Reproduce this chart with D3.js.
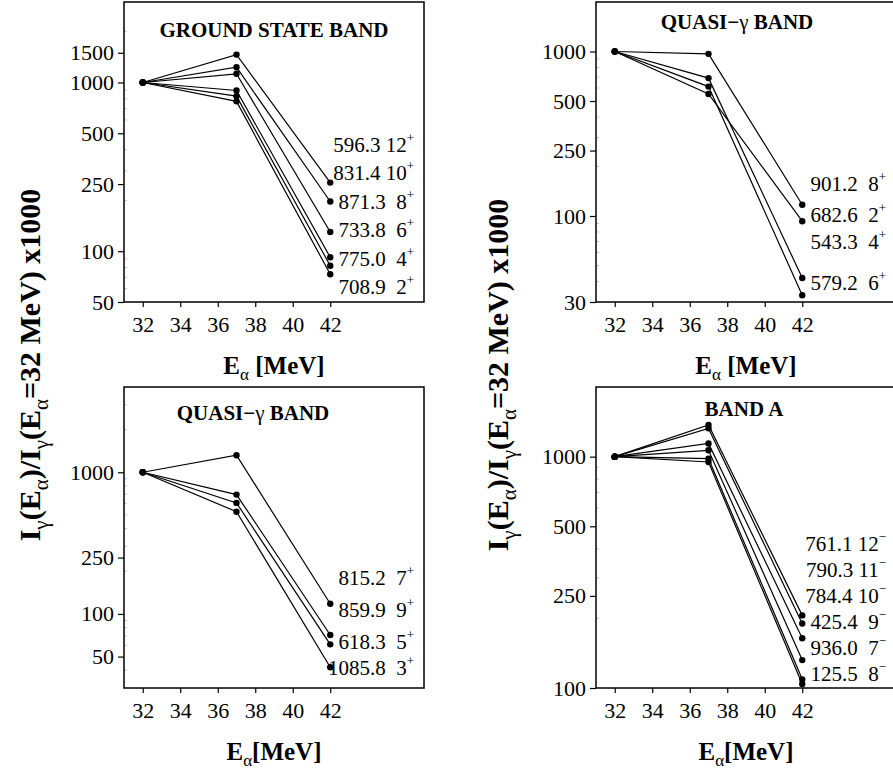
<!DOCTYPE html>
<html><head><meta charset="utf-8">
<script src="https://cdn.jsdelivr.net/npm/d3@7"></script>
</head><body style="margin:0;background:#fff">
<svg id="c" width="893" height="774" style="font-family:'Liberation Serif'"></svg>
<script>
// ---- shared data ----
const beamEnergies = [32, 37, 42];
const xTickValues = [32, 34, 36, 38, 40, 42];

// Ground state band
const gsbGamma = ["596.3","831.4","871.3","733.8","775.0","708.9"];
const gsbSpin  = ["12","10","8","6","4","2"];
const gsbAt32  = [1000,1000,1000,1000,1000,1000];
const gsbAt37  = [1463,1231,1126,897,830,773];
const gsbAt42  = [255,197,130,92,82,73];
const gsbYTicks = [50,100,250,500,1000,1500];

// Quasi-gamma band (even spins)
const qgEvenGamma = ["901.2","682.6","543.3","579.2"];
const qgEvenSpin  = ["8","2","4","6"];
const qgEvenAt32  = [1000,1000,1000,1000];
const qgEvenAt37  = [968,552,689,612];
const qgEvenAt42  = [117,93,42,33];
const qgEvenYTicks = [30,100,250,500,1000];

// Quasi-gamma band (odd spins)
const qgOddGamma = ["815.2","859.9","618.3","1085.8"];
const qgOddSpin  = ["7","9","5","3"];
const qgOddAt32  = [1000,1000,1000,1000];
const qgOddAt37  = [1319,696,608,527];
const qgOddAt42  = [118,71,61,42];
const qgOddYTicks = [50,100,250,1000];

// Band A
const bandAGamma = ["761.1","790.3","784.4","425.4","936.0","125.5"];
const bandASpin  = ["12","11","10","9","7","8"];
const bandAAt32  = [1000,1000,1000,1000,1000,1000];
const bandAAt37  = [1370,1325,1140,1065,980,948];
const bandAAt42  = [206,190,164,132,109,104];
const bandAYTicks = [100,250,500,1000];

const FONT = "Liberation Serif";
const svg = d3.select("#c");
function serif(sel){ return sel.attr("font-family",FONT).style("font-family","'Liberation Serif'"); }

function drawPanel(cfg){
  const g = svg.append("g").attr("transform",`translate(${cfg.left},${cfg.top})`);
  const W = 300, H = cfg.height;
  const x = d3.scaleLinear().domain([31,47]).range([0,W]);
  const y = d3.scaleLog().domain(cfg.domain).range([H,0]);

  // minor ticks
  const [lo,hi] = cfg.domain;
  const minors = [];
  for(let e=Math.floor(Math.log10(lo)); e<=Math.ceil(Math.log10(hi)); e++){
    for(let k=1;k<10;k++){ const v=k*Math.pow(10,e); if(v>lo && v<hi && !cfg.yTicks.includes(v)) minors.push(v); }
  }
  g.selectAll(".minor").data(minors).join("line")
    .attr("x1",0).attr("x2",3).attr("y1",d=>y(d)).attr("y2",d=>y(d))
    .attr("stroke","#aaa").attr("stroke-width",0.7);

  // y axis
  const ya = g.append("g").call(d3.axisLeft(y).tickValues(cfg.yTicks).tickFormat(d3.format("d")).tickSize(6).tickPadding(4));
  serif(ya);
  ya.select(".domain").remove();
  serif(ya.selectAll("text").attr("font-size",22));
  ya.selectAll("line").attr("stroke-width",1.2);

  // x axis
  const xa = g.append("g").attr("transform",`translate(0,${H})`)
    .call(d3.axisBottom(x).tickValues(xTickValues).tickFormat(d3.format("d")).tickSize(5).tickPadding(9));
  serif(xa);
  xa.select(".domain").remove();
  serif(xa.selectAll("text").attr("font-size",22));
  xa.selectAll("line").attr("stroke-width",1.2);

  // frame
  g.append("rect").attr("x",0).attr("y",0).attr("width",W).attr("height",H)
    .attr("fill","none").attr("stroke","#000").attr("stroke-width",1.5);

  // series
  const series = cfg.at32.map((v,i)=>[cfg.at32[i],cfg.at37[i],cfg.at42[i]].map((val,j)=>({e:beamEnergies[j],v:val})));
  const line = d3.line().x(d=>x(d.e)).y(d=>y(d.v));
  g.selectAll(".ser").data(series).join("path")
    .attr("d",line).attr("fill","none").attr("stroke","#000").attr("stroke-width",1.2);
  g.selectAll(".pt").data(series.flat()).join("circle")
    .attr("cx",d=>x(d.e)).attr("cy",d=>y(d.v)).attr("r",3.2).attr("fill","#000");

  // title
  const t = serif(g.append("text")).attr("x",cfg.titleX).attr("y",cfg.titleY).attr("text-anchor","middle")
    .attr("font-weight","bold").attr("font-size",21);
  cfg.title.forEach(p=>{ const s=t.append("tspan").text(p[0]); if(p[1]) s.attr("font-weight","normal"); });

  // level labels
  cfg.gamma.forEach((gm,i)=>{
    const sp = cfg.spin[i];
    const tx = serif(g.append("text")).attr("x",W-10).attr("y",cfg.labelY[i])
      .attr("text-anchor","end").attr("font-size",21).style("white-space","pre");
    tx.append("tspan").text(gm + (sp.length===1 ? "  " : " ") + sp);
    tx.append("tspan").attr("dy",-10).attr("font-size",13).text(cfg.parity);
  });

  // x label
  const xl = serif(g.append("text")).attr("x",W/2).attr("y",H+72).attr("text-anchor","middle")
    .attr("font-weight","bold").attr("font-size",25);
  xl.append("tspan").text("E");
  xl.append("tspan").attr("dy",6).attr("font-size",17).attr("font-weight","normal").text("α");
  xl.append("tspan").attr("dy",-6).text(cfg.xlabelSpace ? " [MeV]" : "[MeV]");
}

const evenY = (y0,dy,n)=>d3.range(n).map(i=>y0+dy*i);

drawPanel({left:124, top:2, height:300, domain:[50,3000], yTicks:gsbYTicks,
  at32:gsbAt32, at37:gsbAt37, at42:gsbAt42, gamma:gsbGamma, spin:gsbSpin, parity:"+",
  title:[["GROUND STATE BAND",false]], titleX:150, titleY:35, labelY:evenY(150,28.4,6), xlabelSpace:true});

drawPanel({left:596, top:2, height:300, domain:[30,2000], yTicks:qgEvenYTicks,
  at32:qgEvenAt32, at37:qgEvenAt37, at42:qgEvenAt42, gamma:qgEvenGamma, spin:qgEvenSpin, parity:"+",
  title:[["QUASI\u2212",false],["\u03b3",true],[" BAND",false]], titleX:141, titleY:27, labelY:[189,220,247,288], xlabelSpace:true});

drawPanel({left:124, top:387, height:301, domain:[30,4000], yTicks:qgOddYTicks,
  at32:qgOddAt32, at37:qgOddAt37, at42:qgOddAt42, gamma:qgOddGamma, spin:qgOddSpin, parity:"+",
  title:[["QUASI\u2212",false],["\u03b3",true],[" BAND",false]], titleX:129, titleY:33, labelY:[198,230,262,288], xlabelSpace:false});

drawPanel({left:596, top:387, height:301, domain:[100,2000], yTicks:bandAYTicks,
  at32:bandAAt32, at37:bandAAt37, at42:bandAAt42, gamma:bandAGamma, spin:bandASpin, parity:"\u2212",
  title:[["BAND A",false]], titleX:148, titleY:29, labelY:evenY(164,26,6), xlabelSpace:false});

// y-axis titles
function yTitle(cx, cy){
  const t = serif(svg.append("text")).attr("transform",`translate(${cx},${cy}) rotate(-90)`)
    .attr("text-anchor","middle").attr("font-weight","bold").attr("font-size",30);
  const parts = [["I",0],["\u03b3",1],["(E",0],["\u03b1",1],[")/I",0],["\u03b3",1],["(E",0],["\u03b1",1],["=32 MeV) x1000",0]];
  let prevSub = false;
  parts.forEach(p=>{
    const s = t.append("tspan").text(p[0]);
    if(p[1]){ s.attr("dy",8).attr("font-size",21).attr("font-weight","normal"); prevSub = true; }
    else { if(prevSub) s.attr("dy",-8); prevSub = false; }
  });
}
yTitle(40, 365);
yTitle(508, 375);
</script>
</body></html>
